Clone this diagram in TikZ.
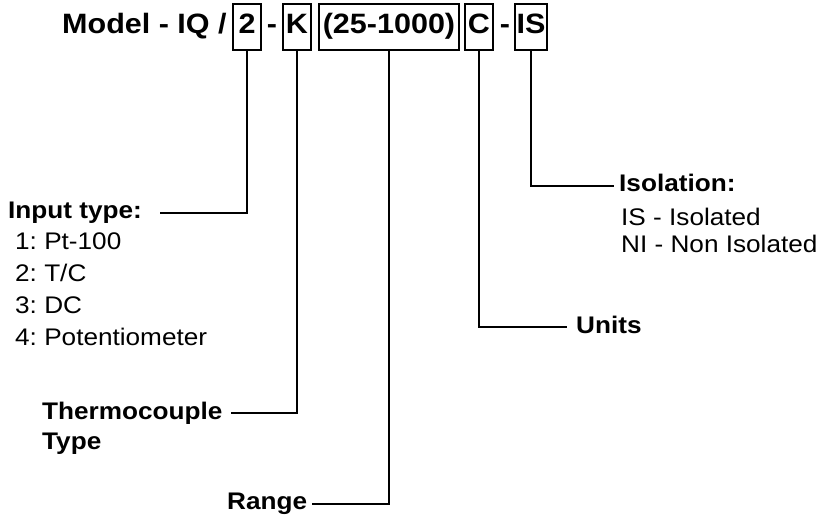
\documentclass[tikz,border=0pt]{standalone}
\usepackage{fontspec}
\setmainfont{Liberation Sans}[FakeStretch=1.09]
\usepackage{tikz}
\usetikzlibrary{
	positioning,       %定位
	arrows.meta        %箭头
}
\tikzset{
	every picture/.style={
		>=latex,
		node distance=5mm and 5mm
}}
\frenchspacing

\begin{document}
\begin{tikzpicture}[x=1pt,y=-1pt]
\tikzstyle{codetext}=[font=\bfseries\fontsize{28}{34}\selectfont, inner sep=0pt, text height=20pt, text depth=8.4pt]
\tikzstyle{codebox}=[codetext, draw=black, line width=2pt, minimum height=46pt]
\tikzstyle{heading}=[font=\bfseries\fontsize{24}{32}\selectfont, inner sep=0pt, text height=17pt, text depth=5pt, anchor=base west]
\tikzstyle{itemtext}=[font=\fontsize{24}{32}\selectfont, inner sep=0pt, anchor=base west]
\tikzstyle{connect}=[line width=2pt]
\useasboundingbox (0,0) rectangle (820,518);
\node[codetext, anchor=base west] (model) at (62,33.3) {Model - IQ /};
\node[codebox, minimum width=28pt] (two) at (247,27.5) {2};
\node[codetext, anchor=base] (dasha) at (272,33.3) {-};
\node[codebox, minimum width=28pt] (k) at (297,27.5) {K};
\node[codebox, minimum width=140pt] (range) at (389,27.5) {(25-1000)};
\node[codebox, minimum width=28pt] (c) at (479,27.5) {C};
\node[codetext, anchor=base] (dashb) at (505,33.3) {-};
\node[codebox, minimum width=32pt] (is) at (531,27.5) {IS};
\node[heading] (intype) at (8,219) {Input type:};
\foreach \t [count=\i] in {1: Pt-100, 2: T/C, 3: DC, 4: Potentiometer}
	\node[itemtext] (in\i) at (15,218+32*\i) {\t};
\node[heading] (tc) at (42,419.3) {Thermocouple};
\node[heading] (tctype) at (42,450) {Type};
\node[heading] (rng) at (227,510) {Range};
\node[heading] (units) at (576,333.3) {Units};
\node[heading] (iso) at (619,192) {Isolation:};
\foreach \t [count=\i] in {IS - Isolated, NI - Non Isolated}
	\node[itemtext] (iso\i) at (621,199+27*\i) {\t};
\draw[connect, shorten >=18pt] (two.south) |- (intype.east);
\draw[connect, shorten >=8pt] (k.south) |- (tc.east);
\draw[connect, shorten >=5pt] (range.south) |- (rng.east);
\draw[connect, shorten >=9pt] (c.south) |- (units.west);
\draw[connect, shorten >=5pt] (is.south) |- (iso.west);
\end{tikzpicture}
\end{document}
